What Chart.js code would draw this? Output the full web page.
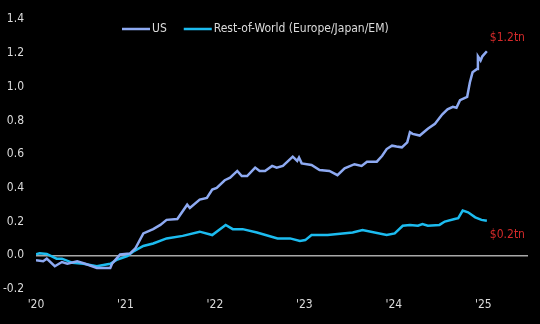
<!DOCTYPE html>
<html>
<head>
<meta charset="utf-8">
<script src="https://cdn.jsdelivr.net/npm/chart.js@4.4.1/dist/chart.umd.min.js"></script>
<style>
  html, body { margin:0; padding:0; background:#000; }
  #wrap { width:540px; height:324px; }
</style>
</head>
<body>
<div id="wrap"><canvas id="c" width="540" height="324"></canvas></div>
<script>
// US vs Rest-of-World, cumulative ($tn), x in fractional years
const usYears = [2020.00,2020.08,2020.12,2020.21,2020.29,2020.35,2020.46,2020.55,2020.68,2020.83,2020.85,2020.94,
  2021.05,2021.11,2021.20,2021.31,2021.39,2021.46,2021.58,2021.69,2021.72,2021.83,2021.91,2021.97,
  2022.02,2022.11,2022.17,2022.25,2022.30,2022.36,2022.45,2022.50,2022.56,2022.64,2022.69,2022.76,2022.82,2022.87,2022.92,2022.94,2022.97,
  2023.08,2023.17,2023.28,2023.37,2023.45,2023.56,2023.64,2023.70,2023.81,2023.87,2023.92,2023.98,
  2024.03,2024.09,2024.15,2024.18,2024.21,2024.29,2024.38,2024.46,2024.54,2024.60,2024.66,2024.70,2024.74,2024.82,2024.85,2024.88,2024.93,2024.94,2024.97,2024.99,2025.04];
const usValues = [-0.03,-0.035,-0.02,-0.065,-0.04,-0.05,-0.035,-0.05,-0.075,-0.075,-0.05,0.005,
  0.01,0.04,0.13,0.155,0.18,0.21,0.215,0.30,0.28,0.33,0.34,0.39,
  0.40,0.445,0.46,0.50,0.47,0.47,0.52,0.50,0.50,0.53,0.52,0.53,0.56,0.585,0.56,0.58,0.545,
  0.535,0.505,0.50,0.475,0.515,0.54,0.53,0.555,0.555,0.59,0.63,0.65,
  0.645,0.64,0.67,0.73,0.72,0.71,0.75,0.78,0.835,0.865,0.88,0.875,0.92,0.94,1.025,1.085,1.105,1.18,1.155,1.18,1.21];

const rowYears = [2020.00,2020.04,2020.12,2020.23,2020.29,2020.41,2020.53,2020.68,2020.83,2020.91,
  2021.02,2021.08,2021.20,2021.31,2021.46,2021.64,2021.83,2021.97,
  2022.12,2022.20,2022.31,2022.47,2022.70,2022.84,2022.95,
  2023.01,2023.08,2023.26,2023.54,2023.65,2023.92,
  2024.01,2024.10,2024.18,2024.27,2024.32,2024.38,2024.51,2024.57,2024.68,2024.72,2024.77,2024.83,2024.91,2024.98,2025.04];
const rowValues = [0.005,0.012,0.008,-0.02,-0.02,-0.045,-0.05,-0.065,-0.05,-0.025,
  -0.005,0.02,0.055,0.07,0.10,0.115,0.14,0.12,
  0.18,0.155,0.155,0.135,0.10,0.10,0.085,
  0.09,0.12,0.12,0.135,0.15,0.12,
  0.13,0.175,0.18,0.175,0.185,0.175,0.18,0.20,0.215,0.22,0.265,0.255,0.225,0.21,0.205];

const yearTicks = [2020, 2021, 2022, 2023, 2024, 2025];
const seriesNames = ['US', 'Rest-of-World (Europe/Japan/EM)'];
const endLabels = ['$1.2tn', '$0.2tn'];
const colors = ['#8eaaf2', '#1cbcf0'];
const FONT = "'DejaVu Sans Condensed', 'Liberation Sans Narrow', sans-serif";

const pts = (xs, ys) => xs.map((x, i) => ({ x, y: ys[i] }));

// legend + end labels drawn on top of the plot
const overlay = {
  id: 'overlay',
  afterDatasetsDraw(chart) {
    const { ctx, chartArea, scales } = chart;
    ctx.save();
    ctx.font = '12px ' + FONT;
    ctx.textBaseline = 'middle';
    let lx = chartArea.left + 86;
    const ly = 29;
    seriesNames.forEach((n, i) => {
      ctx.strokeStyle = colors[i]; ctx.lineWidth = 2.5;
      ctx.beginPath(); ctx.moveTo(lx, ly); ctx.lineTo(lx + 28, ly); ctx.stroke();
      ctx.fillStyle = '#dcdcdc'; ctx.textAlign = 'left';
      ctx.fillText(n, lx + 30, ly);
      lx += 30 + ctx.measureText(n).width + 17;
    });
    // end-of-series labels
    ctx.fillStyle = '#d42a2a';
    const dsets = chart.data.datasets;
    [-13, 14].forEach((off, i) => {
      const d = dsets[i].data; const last = d[d.length - 1];
      ctx.fillText(endLabels[i], scales.x.getPixelForValue(last.x) + 3, scales.y.getPixelForValue(last.y) + off);
    });
    ctx.restore();
  }
};

new Chart(document.getElementById('c'), {
  type: 'line',
  data: {
    datasets: [
      { label: seriesNames[0], data: pts(usYears, usValues), borderColor: colors[0], borderWidth: 2.5, pointRadius: 0, tension: 0 },
      { label: seriesNames[1], data: pts(rowYears, rowValues), borderColor: colors[1], borderWidth: 2.5, pointRadius: 0, tension: 0 },
    ]
  },
  options: {
    responsive: false, animation: false,
    layout: { padding: { top: 13, right: 12, bottom: 11, left: 0 } },
    plugins: { legend: { display: false }, tooltip: { enabled: false } },
    scales: {
      x: {
        type: 'linear', min: 2020, max: 2025.5,
        grid: { display: false, drawTicks: false }, border: { display: false },
        afterBuildTicks: s => { s.ticks = yearTicks.map(v => ({ value: v })); },
        afterFit: s => { s.height = 24; },
        ticks: { autoSkip: false, maxRotation: 0, color: '#dcdcdc', font: { size: 12, family: FONT }, padding: 9,
          callback: v => "'" + String(Math.round(v)).slice(2) }
      },
      y: {
        min: -0.2, max: 1.4,
        border: { display: false },
        afterFit: s => { s.width = 36; },
        grid: { drawTicks: false, lineWidth: 1.5, color: c => Math.abs(c.tick.value) < 1e-9 ? '#a8a8a8' : 'rgba(0,0,0,0)' },
        ticks: { stepSize: 0.2, color: '#dcdcdc', font: { size: 12, family: FONT }, padding: 12,
          callback: v => (Math.abs(v) < 1e-9 ? 0 : v).toFixed(1) }
      }
    }
  },
  plugins: [overlay]
});
</script>
</body>
</html>
